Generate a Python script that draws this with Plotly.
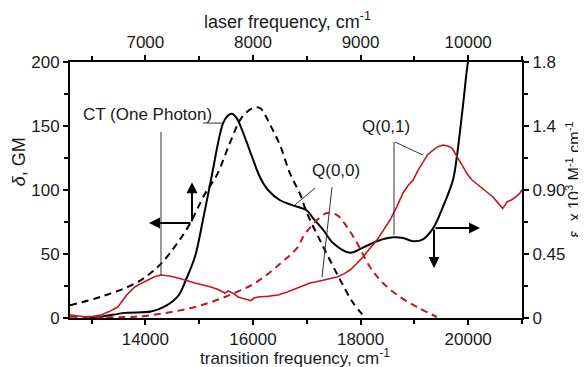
import plotly.graph_objects as go

# ---- data ----
# two-photon cross-section (black solid), GM, vs transition frequency cm-1
tp_freq = [12950, 13176, 13622, 14105, 14365, 14607, 14756, 14923, 15072, 15220, 15443, 15530, 15611,
           15700, 15797, 15982, 16131, 16280, 16503, 16744, 17004, 17116, 17302, 17488, 17804,
           18045, 18305, 18603, 18789, 18975, 19160, 19346, 19532, 19718, 19792, 19903, 19996, 20071]
tp_gm = [0.3, 1.0, 4, 5, 9, 17, 30, 48, 77, 108, 152, 158, 159.5,
         156, 147, 126, 110, 100, 92, 88, 84, 78, 69, 58.6, 51,
         55, 60, 63, 62.5, 60, 61.5, 70, 87, 108, 127, 166, 200, 215]

# one-photon CT band fit (black dashed), GM-scale
ct_freq = [12600, 13176, 13808, 14235, 14551, 14793, 15109, 15332, 15574, 15797, 16001, 16131,
           16317, 16503, 16688, 16874, 17004, 17302, 17618, 17859, 18082]
ct_gm = [10, 16.6, 27, 40, 56, 71, 97, 112, 137, 157, 164, 164,
         151, 135, 113, 97, 82, 56, 30, 12, 0.5]

# one-photon absorption (red solid), x10^3 M-1 cm-1
ab_freq = [12600, 12740, 12879, 13030, 13176, 13330, 13492, 13650, 13808, 13930, 14050, 14170, 14291,
           14450, 14607, 14760, 14923, 15070, 15220, 15350, 15480, 15540, 15592, 15650, 15722, 15850,
           15964, 16020, 16094, 16280, 16466, 16650, 16837, 16950, 17060, 17180, 17302, 17430, 17562,
           17690, 17804, 17920, 18045, 18175, 18305, 18430, 18547, 18670, 18789, 18880, 18975, 19070,
           19160, 19250, 19346, 19440, 19532, 19620, 19699, 19770, 19848, 19920, 19996, 20071, 20170,
           20275, 20370, 20461, 20530, 20591, 20640, 20680, 20721, 20800, 20880, 20963, 21000]
ab_eps = [0.021, 0.014, 0.009, 0.012, 0.021, 0.045, 0.079, 0.16, 0.22, 0.245, 0.267, 0.29, 0.302,
          0.295, 0.281, 0.262, 0.246, 0.232, 0.218, 0.2, 0.176, 0.19, 0.183, 0.17, 0.148, 0.135,
          0.122, 0.14, 0.148, 0.153, 0.162, 0.185, 0.211, 0.228, 0.246, 0.255, 0.267, 0.278, 0.288,
          0.31, 0.3375, 0.38, 0.429, 0.49, 0.548, 0.62, 0.689, 0.78, 0.879, 0.93, 0.970, 1.04,
          1.097, 1.15, 1.181, 1.205, 1.216, 1.21, 1.195, 1.15, 1.097, 1.05, 1.005, 0.970, 0.94,
          0.914, 0.88, 0.851, 0.82, 0.795, 0.77, 0.79, 0.816, 0.83, 0.85, 0.879, 0.900]

# Q(0,0) band fit (red dashed), x10^3 M-1 cm-1
q_freq = [12600, 13808, 14365, 14923, 15480, 16038, 16521, 16837, 16930, 17190, 17376, 17562,
          17748, 17934, 18175, 18417, 18733, 19049, 19420]
q_eps = [0.009, 0.009, 0.035, 0.077, 0.148, 0.246, 0.387, 0.50, 0.57, 0.689, 0.738, 0.724,
         0.640, 0.527, 0.359, 0.246, 0.148, 0.077, 0.007]

x_range = [12600, 21000]
x2_range = [6300, 10500]
x_ticks = [14000, 16000, 18000, 20000]
x_labels = ["14000", "16000", "18000", "20000"]
x2_ticks = [7000, 8000, 9000, 10000]
x2_labels = ["7000", "8000", "9000", "10000"]
y_ticks = [0, 50, 100, 150, 200]
y_labels = ["0", "50", "100", "150", "200"]
y2_ticks = [0, 0.45, 0.90, 1.35, 1.8]
y2_labels = ["0", "0.45", "0.90", "1.4", "1.8"]

RED = "#c4161c"
FONT = "Arial, Liberation Sans, sans-serif"
TXT = "#1a1a1a"

fig = go.Figure()
fig.add_trace(go.Scatter(x=ct_freq, y=ct_gm, mode="lines", line=dict(color="black", width=2, dash="7px,5px"),
                         xaxis="x", yaxis="y", showlegend=False, line_shape="spline"))
fig.add_trace(go.Scatter(x=q_freq, y=q_eps, mode="lines", line=dict(color=RED, width=2, dash="7px,5px"),
                         xaxis="x", yaxis="y2", showlegend=False, line_shape="spline"))
fig.add_trace(go.Scatter(x=ab_freq, y=ab_eps, mode="lines", line=dict(color=RED, width=1.6),
                         xaxis="x", yaxis="y2", showlegend=False))
fig.add_trace(go.Scatter(x=tp_freq, y=tp_gm, mode="lines", line=dict(color="black", width=2),
                         xaxis="x", yaxis="y", showlegend=False, line_shape="spline"))
# carrier for top axis
fig.add_trace(go.Scatter(x=[None], y=[None], xaxis="x2", yaxis="y", showlegend=False, hoverinfo="skip"))

axis_common = dict(showline=True, linecolor="black", linewidth=2, ticks="outside", ticklen=5,
                   tickwidth=1.5, tickcolor="black", showgrid=False, zeroline=False,
                   tickfont=dict(family=FONT, size=17, color=TXT))
minor_common = dict(ticks="outside", ticklen=4, tickcolor="black", tickwidth=1.5)

fig.update_layout(
    width=578, height=359,
    margin=dict(l=62, r=64, t=54, b=49),
    paper_bgcolor="white", plot_bgcolor="white",
    xaxis=dict(range=x_range, tickvals=x_ticks, ticktext=x_labels, side="bottom", ticklabelstandoff=0,
               minor=dict(tickvals=[13000, 15000, 17000, 19000, 21000], **minor_common), **axis_common),
    xaxis2=dict(range=x2_range, tickvals=x2_ticks, ticktext=x2_labels, side="top", overlaying="x", anchor="y",
                minor=dict(tickvals=[6500, 7500, 8500, 9500, 10500], **minor_common), **axis_common),
    yaxis=dict(range=[0, 200], tickvals=y_ticks, ticktext=y_labels,
               minor=dict(tickvals=[25, 75, 125, 175], **minor_common), **axis_common),
    yaxis2=dict(range=[0, 1.8], tickvals=y2_ticks, ticktext=y2_labels, side="right",
                overlaying="y", anchor="x",
                minor=dict(tickvals=[0.225, 0.675, 1.125, 1.575], **minor_common), **axis_common),
)

# axis titles
tfont = dict(family=FONT, size=18, color=TXT)
fig.add_annotation(text="laser frequency, cm<sup>-1</sup>", xref="paper", yref="paper",
                   x=0.482, y=1.164, xanchor="center", yanchor="middle", showarrow=False, font=tfont)
fig.add_annotation(text="transition frequency, cm<sup>-1</sup>", xref="paper", yref="paper",
                   x=0.498, y=-0.152, xanchor="center", yanchor="middle", showarrow=False,
                   font=dict(family=FONT, size=17, color=TXT))
fig.add_annotation(text="<i>δ</i>, GM", xref="paper", yref="paper", x=-0.114, y=0.61,
                   xanchor="center", yanchor="middle", showarrow=False, textangle=-90, font=tfont)
fig.add_annotation(text="ε, x 10<sup>3</sup> M<sup>-1</sup> cm<sup>-1</sup>", xref="paper", yref="paper",
                   x=1.112, y=0.54, xanchor="center", yanchor="middle", showarrow=False, textangle=-90,
                   font=dict(family=FONT, size=16, color=TXT))

# labels
lfont = dict(family=FONT, size=17, color=TXT)
fig.add_annotation(text="CT (One Photon)", x=12804, y=159, xanchor="left", yanchor="middle",
                   showarrow=False, font=lfont)
fig.add_annotation(text="Q(0,0)", x=17543, y=115.6, xanchor="center", yanchor="middle",
                   showarrow=False, font=lfont)
fig.add_annotation(text="Q(0,1)", x=18472, y=150, xanchor="center", yanchor="middle",
                   showarrow=False, font=lfont)

# leader lines
leaders = [
    (15072, 152.3, 15425, 152.3),
    (14291, 145.3, 14291, 33.6),
    (17153, 101.6, 16781, 88.3),
    (17469, 102.3, 17283, 32),
    (18621, 137.5, 18621, 64.8),
    (18640, 137.5, 19160, 127.3),
]
for x0, y0, x1, y1 in leaders:
    fig.add_shape(type="line", x0=x0, y0=y0, x1=x1, y1=y1, xref="x", yref="y",
                  line=dict(color="#333333", width=1))

# axis-indicator arrows
arrows = [
    (14867, 74.2, 14068, 74.2),
    (14867, 74.2, 14867, 106),
    (19365, 70.3, 20219, 70.3),
    (19365, 70.3, 19365, 39),
]
for x0, y0, x1, y1 in arrows:
    fig.add_annotation(x=x1, y=y1, ax=x0, ay=y0, xref="x", yref="y", axref="x", ayref="y",
                       text="", showarrow=True, arrowhead=2, arrowsize=1.1, arrowwidth=2,
                       arrowcolor="black", standoff=0)

fig.write_html("out.html")
